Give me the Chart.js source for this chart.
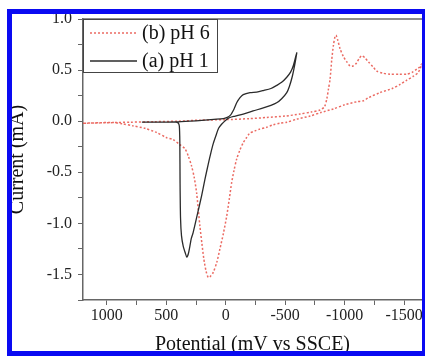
<!DOCTYPE html>
<html>
<head>
<meta charset="utf-8">
<script src="https://cdn.jsdelivr.net/npm/chart.js@4.4.0/dist/chart.umd.min.js"></script>
<style>
    html, body { margin: 0; padding: 0; background: #fff; }
    #wrap { position: relative; width: 425px; height: 356px; overflow: hidden; }
    #frame {
        position: absolute; left: 7px; top: 9px; width: 418px; height: 347px;
        box-sizing: border-box; border: 5px solid #0a0af2; border-right-width: 3px;
        pointer-events: none;
    }
</style>
</head>
<body>
<div id="wrap">
    <canvas id="cvChart" width="425" height="356"></canvas>
    <div id="frame"></div>
</div>
<script>
//#####################################################################################//
//-- Data (potential in mV vs SSCE, current in mA)

// (a) pH 1 - forward scan to -600 mV then back
const pH1Potential = [705, 600, 500, 420, 300, 200, 100, 20, -8, -40, -70, -92, -120, -147, -204, -260, -316, -380, -428, -470, -513, -545, -570, -597,
    -580, -560, -535, -513, -470, -428, -380, -316, -230, -147, -80, -35, 0, 35, 60, 82, 105, 125, 147, 175, 203, 240, 274, 290, 301, 315, 327, 340, 358, 372, 380, 384, 386, 390, 398, 420, 500, 600, 705];
const pH1Current = [-0.01, -0.01, -0.01, -0.008, 0.0, 0.008, 0.018, 0.026, 0.035, 0.06, 0.12, 0.18, 0.23, 0.26, 0.28, 0.285, 0.30, 0.32, 0.35, 0.38, 0.43, 0.48, 0.55, 0.67,
    0.55, 0.44, 0.34, 0.28, 0.22, 0.18, 0.155, 0.13, 0.10, 0.07, 0.05, 0.036, 0.01, -0.03, -0.07, -0.14, -0.22, -0.31, -0.42, -0.57, -0.73, -0.92, -1.09, -1.15, -1.22, -1.30, -1.33, -1.29, -1.22, -1.12, -0.95, -0.6, -0.2, -0.05, -0.02, -0.01, -0.01, -0.01, -0.01];

// (b) pH 6 - forward scan to -1650 mV then back
const pH6Potential = [1200, 1000, 800, 600, 400, 218, 0, -200, -344, -500, -624, -720, -793, -830, -850, -863, -877, -891, -905, -919, -927, -940, -961, -990, -1018, -1045, -1070, -1100, -1125, -1144, -1170, -1200, -1240, -1270, -1320, -1382, -1460, -1523, -1570, -1607, -1630, -1649,
    -1620, -1578, -1520, -1466, -1400, -1298, -1200, -1157, -1102, -1000, -905, -800, -709, -597, -513, -456, -400, -344, -280, -246, -200, -170, -147, -120, -92, -70, -50, -30, -8, 20, 49, 75, 105, 130, 147, 165, 184, 200, 217, 245, 265, 287, 315, 343, 386, 442, 500, 582, 680, 779, 870, 947, 1050, 1200];
const pH6Current = [-0.02, -0.015, -0.01, -0.005, 0.0, 0.01, 0.015, 0.025, 0.036, 0.05, 0.07, 0.09, 0.11, 0.14, 0.22, 0.31, 0.41, 0.6, 0.74, 0.83, 0.84, 0.8, 0.71, 0.63, 0.58, 0.54, 0.54, 0.57, 0.62, 0.64, 0.62, 0.58, 0.53, 0.49, 0.47, 0.46, 0.46, 0.46, 0.48, 0.51, 0.53, 0.56,
    0.48, 0.44, 0.40, 0.36, 0.32, 0.28, 0.23, 0.20, 0.19, 0.16, 0.12, 0.085, 0.05, 0.02, -0.01, -0.02, -0.035, -0.06, -0.08, -0.095, -0.12, -0.17, -0.21, -0.28, -0.37, -0.48, -0.60, -0.76, -0.93, -1.1, -1.25, -1.38, -1.48, -1.52, -1.53, -1.47, -1.35, -1.2, -1.03, -0.70, -0.55, -0.44, -0.34, -0.27, -0.23, -0.18, -0.16, -0.11, -0.07, -0.046, -0.025, -0.013, -0.015, -0.02];

const seriesLabels = ['(b) pH 6', '(a) pH 1'];
const xAxisRange = [-1650, 1200];
const yAxisRange = [-1.75, 1.0];
const xTickValues = [-1500, -1250, -1000, -750, -500, -250, 0, 250, 500, 750, 1000];
const xTickLabels = ['-1500', '', '-1000', '', '-500', '', '0', '', '500', '', '1000'];
const yTickValues = [-1.75, -1.5, -1.25, -1.0, -0.75, -0.5, -0.25, 0.0, 0.25, 0.5, 0.75, 1.0];
const yTickLabels = ['', '-1.5', '', '-1.0', '', '-0.5', '', '0.0', '', '0.5', '', '1.0'];
const xTitle = 'Potential (mV vs SSCE)';
const yTitle = 'Current (mA)';

//#####################################################################################//

const serif = 'Liberation Serif';
const axisColour = '#666';

var toPoints = function(xs, ys) {
    let pts = [];
    for (let i = 0; i < xs.length; i++) {
        pts.push({ x: xs[i], y: ys[i] });
    }
    return pts;
}

//Legend in a box at the top left of the plot, like the original
var boxLegend = {
    id: 'boxLegend',
    afterDatasetsDraw: function(chart) {
        let ctx = chart.ctx;
        let area = chart.chartArea;
        let x0 = area.left, y0 = area.top;
        ctx.save();
        ctx.fillStyle = '#fff';
        ctx.fillRect(x0, y0, 134, 53);
        ctx.strokeStyle = '#444';
        ctx.lineWidth = 1;
        ctx.strokeRect(x0 + 0.5, y0 + 0.5, 134, 53);
        chart.data.datasets.forEach(function(ds, i) {
            let yy = y0 + 14 + i * 28;
            ctx.strokeStyle = ds.borderColor;
            ctx.lineWidth = ds.borderWidth;
            ctx.setLineDash(ds.borderDash || []);
            ctx.beginPath();
            ctx.moveTo(x0 + 7, yy);
            ctx.lineTo(x0 + 54, yy);
            ctx.stroke();
            ctx.setLineDash([]);
            ctx.fillStyle = '#111';
            ctx.font = '20px "' + serif + '"';
            ctx.textBaseline = 'middle';
            ctx.fillText(ds.label, x0 + 59, yy + 1);
        });
        ctx.restore();
    }
};

//Top edge of the plot frame
var topFrame = {
    id: 'topFrame',
    beforeDatasetsDraw: function(chart) {
        let ctx = chart.ctx;
        let area = chart.chartArea;
        ctx.save();
        ctx.strokeStyle = axisColour;
        ctx.lineWidth = 1.5;
        ctx.beginPath();
        ctx.moveTo(area.left, area.top);
        ctx.lineTo(area.right + 3, area.top);
        ctx.stroke();
        ctx.restore();
    }
};

var chart = new Chart(document.getElementById('cvChart'), {
    type: 'line',
    data: {
        datasets: [{
            label: seriesLabels[0],
            data: toPoints(pH6Potential, pH6Current),
            borderColor: 'rgba(232,80,70,0.85)',
            borderWidth: 1.5,
            borderDash: [2, 2],
            pointRadius: 0,
            tension: 0.25,
            fill: false,
            order: 1
        }, {
            label: seriesLabels[1],
            data: toPoints(pH1Potential, pH1Current),
            borderColor: '#2b2b2b',
            borderWidth: 1.3,
            pointRadius: 0,
            tension: 0.25,
            fill: false,
            order: 0
        }]
    },
    options: {
        responsive: false,
        animation: false,
        events: [],
        layout: { padding: { top: 19, right: 3, left: 0, bottom: 0 } },
        plugins: { legend: { display: false }, tooltip: { enabled: false } },
        scales: {
            x: {
                type: 'linear',
                reverse: true,
                min: xAxisRange[0],
                max: xAxisRange[1],
                afterBuildTicks: function(scale) {
                    scale.ticks = xTickValues.map(v => ({ value: v }));
                },
                afterFit: function(scale) { scale.height = 56; },
                ticks: {
                    autoSkip: false,
                    maxRotation: 0,
                    minRotation: 0,
                    padding: 1,
                    color: '#222',
                    font: { family: serif, size: 16 },
                    callback: function(v, i) { return xTickLabels[i]; }
                },
                grid: { drawOnChartArea: false, tickLength: 5, color: axisColour },
                border: { color: axisColour, width: 1.5 },
                title: {
                    display: true, text: xTitle, color: '#111',
                    font: { family: serif, size: 20, lineHeight: 1.1 },
                    padding: { top: 0, bottom: 0 }
                }
            },
            y: {
                min: yAxisRange[0],
                max: yAxisRange[1],
                afterBuildTicks: function(scale) {
                    scale.ticks = yTickValues.map(v => ({ value: v }));
                },
                afterFit: function(scale) { scale.width = 83; },
                ticks: {
                    autoSkip: false,
                    padding: 6,
                    color: '#222',
                    font: { family: serif, size: 16 },
                    callback: function(v, i) { return yTickLabels[i]; }
                },
                grid: { drawOnChartArea: false, tickLength: 5, color: axisColour },
                border: { color: axisColour, width: 1.5 },
                title: {
                    display: true, text: yTitle, color: '#111',
                    font: { family: serif, size: 20, lineHeight: 1.2 },
                    padding: { top: 6, bottom: 4 }
                }
            }
        }
    },
    plugins: [topFrame, boxLegend]
});
</script>
</body>
</html>
